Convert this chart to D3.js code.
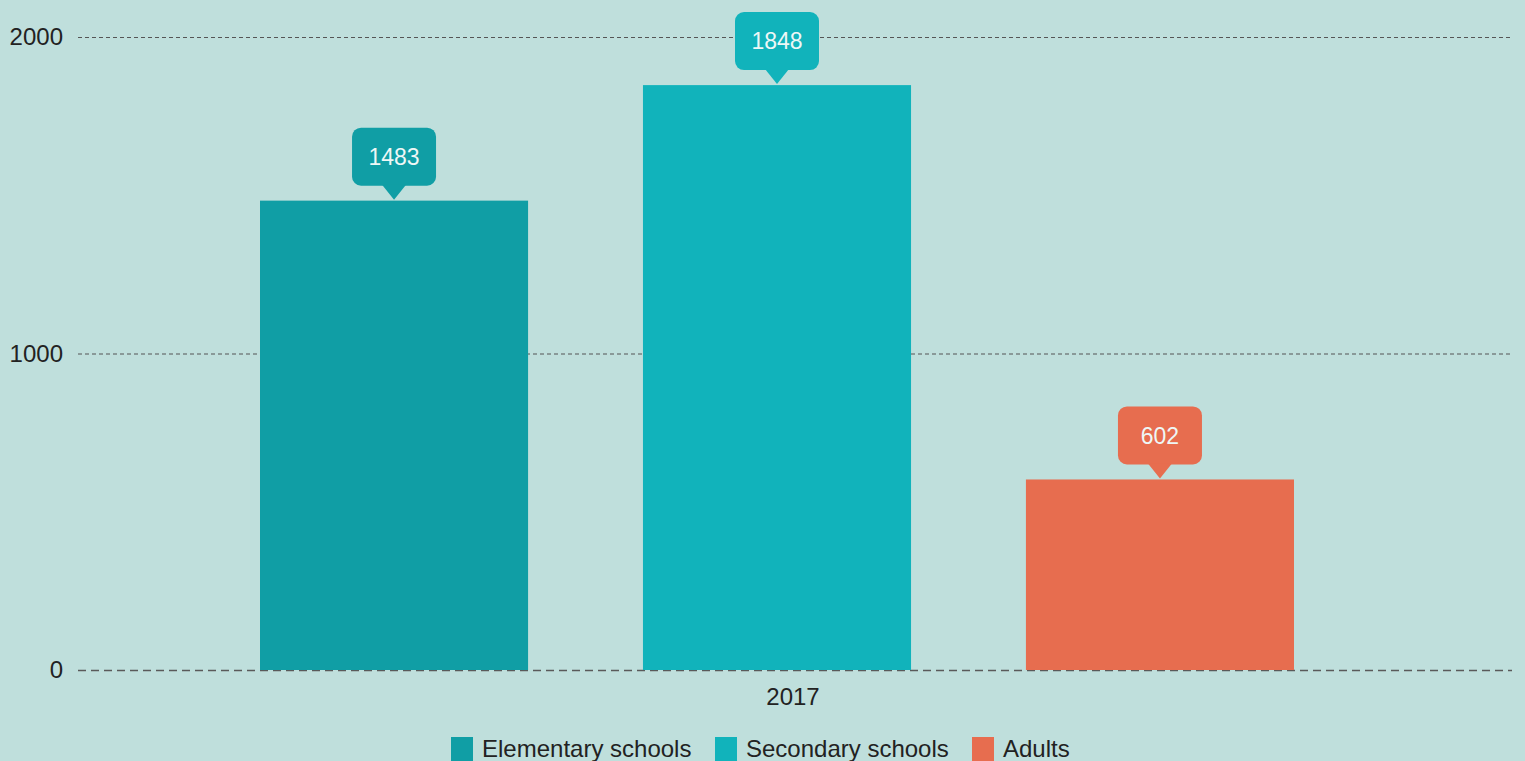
<!DOCTYPE html>
<html lang='en'>
<head>
<meta charset='utf-8'/>
<title>2017</title>
<script src='https://d3js.org/d3.v7.min.js'></script>
<style>
  body { margin: 0; background: #bfdfdc; overflow: hidden; }
  text { font-family: Arial, 'Liberation Sans', sans-serif; }
</style>
</head>
<body>
<script>
'use strict'
// data
const years = ['2017']
const series = ['Elementary schools', 'Secondary schools', 'Adults']
const values = [1483, 1848, 602]
const colors = ['#109ea5', '#11b3bb', '#e76d4f']
const yTicks = [0, 1000, 2000]

const width = 1525
const height = 761
const margin = {top: 37, right: 13, bottom: 91, left: 78}
const fontSize = 24

const svg = d3.select('body').append('svg')
  .attr('width', width)
  .attr('height', height)

svg.append('rect')
  .attr('width', '100%')
  .attr('height', '100%')
  .attr('fill', '#bfdfdc')

const y = d3.scaleLinear()
  .domain([0, 2000])
  .range([height - margin.bottom, margin.top])

const x0 = d3.scaleBand()
  .domain(years)
  .range([margin.left, width - margin.right])

// bars within the group
const x1 = d3.scaleBand()
  .domain(series)
  .range([260 - margin.left, 1294 - margin.left])
  .paddingInner(0.3)

// grid lines (half pixel offset keeps them crisp)
const grid = svg.append('g')
grid.selectAll('line')
  .data(yTicks)
  .join('line')
  .attr('x1', margin.left)
  .attr('x2', width - margin.right)
  .attr('y1', d => y(d) + 0.5)
  .attr('y2', d => y(d) + 0.5)
  .attr('stroke', d => d === 0 ? '#5a5a5a' : '#555')
  .attr('stroke-width', d => d === 0 ? 1.5 : 1.2)
  .attr('stroke-dasharray', d => d === 0 ? '8,5' : '4,3')

grid.selectAll('text')
  .data(yTicks)
  .join('text')
  .attr('x', 63)
  .attr('y', d => y(d))
  .attr('dy', '0.35em')
  .attr('text-anchor', 'end')
  .attr('font-size', fontSize)
  .attr('fill', '#222')
  .text(d => d)

// bars
const g = svg.append('g')
  .attr('transform', 'translate(' + x0(years[0]) + ',0)')

g.selectAll('rect')
  .data(series)
  .join('rect')
  .attr('x', d => x1(d))
  .attr('y', (d, i) => y(values[i]))
  .attr('width', x1.bandwidth())
  .attr('height', (d, i) => y(0) - y(values[i]))
  .attr('fill', (d, i) => colors[i])

// value callouts
const bw = 84, bh = 58, tip = 14
const callout = g.selectAll('g.callout')
  .data(series)
  .join('g')
  .attr('class', 'callout')
  .attr('transform', (d, i) => 'translate(' + (x1(d) + x1.bandwidth() / 2) + ',' + (y(values[i]) - 1) + ')')

callout.append('rect')
  .attr('x', -bw / 2)
  .attr('y', -tip - bh)
  .attr('width', bw)
  .attr('height', bh)
  .attr('rx', 9)
  .attr('fill', (d, i) => colors[i])

callout.append('path')
  .attr('d', 'M-12,' + (-tip - 1) + 'L0,0L12,' + (-tip - 1) + 'Z')
  .attr('fill', (d, i) => colors[i])

callout.append('text')
  .attr('y', -tip - bh / 2)
  .attr('dy', '0.35em')
  .attr('text-anchor', 'middle')
  .attr('font-size', 23)
  .attr('fill', '#eef7f6')
  .text((d, i) => values[i])

// x axis label
svg.append('text')
  .attr('x', x0(years[0]) + x0.bandwidth() / 2 - 2)
  .attr('y', 705)
  .attr('text-anchor', 'middle')
  .attr('font-size', fontSize)
  .attr('fill', '#222')
  .text(years[0])

// legend
const legendX = [451, 715, 972]
const legend = svg.append('g')
legend.selectAll('rect')
  .data(series)
  .join('rect')
  .attr('x', (d, i) => legendX[i])
  .attr('y', 737)
  .attr('width', 22)
  .attr('height', 24)
  .attr('fill', (d, i) => colors[i])

legend.selectAll('text')
  .data(series)
  .join('text')
  .attr('x', (d, i) => legendX[i] + 31)
  .attr('y', 757)
  .attr('font-size', fontSize)
  .attr('fill', '#222')
  .text(d => d)
</script>
</body>
</html>
